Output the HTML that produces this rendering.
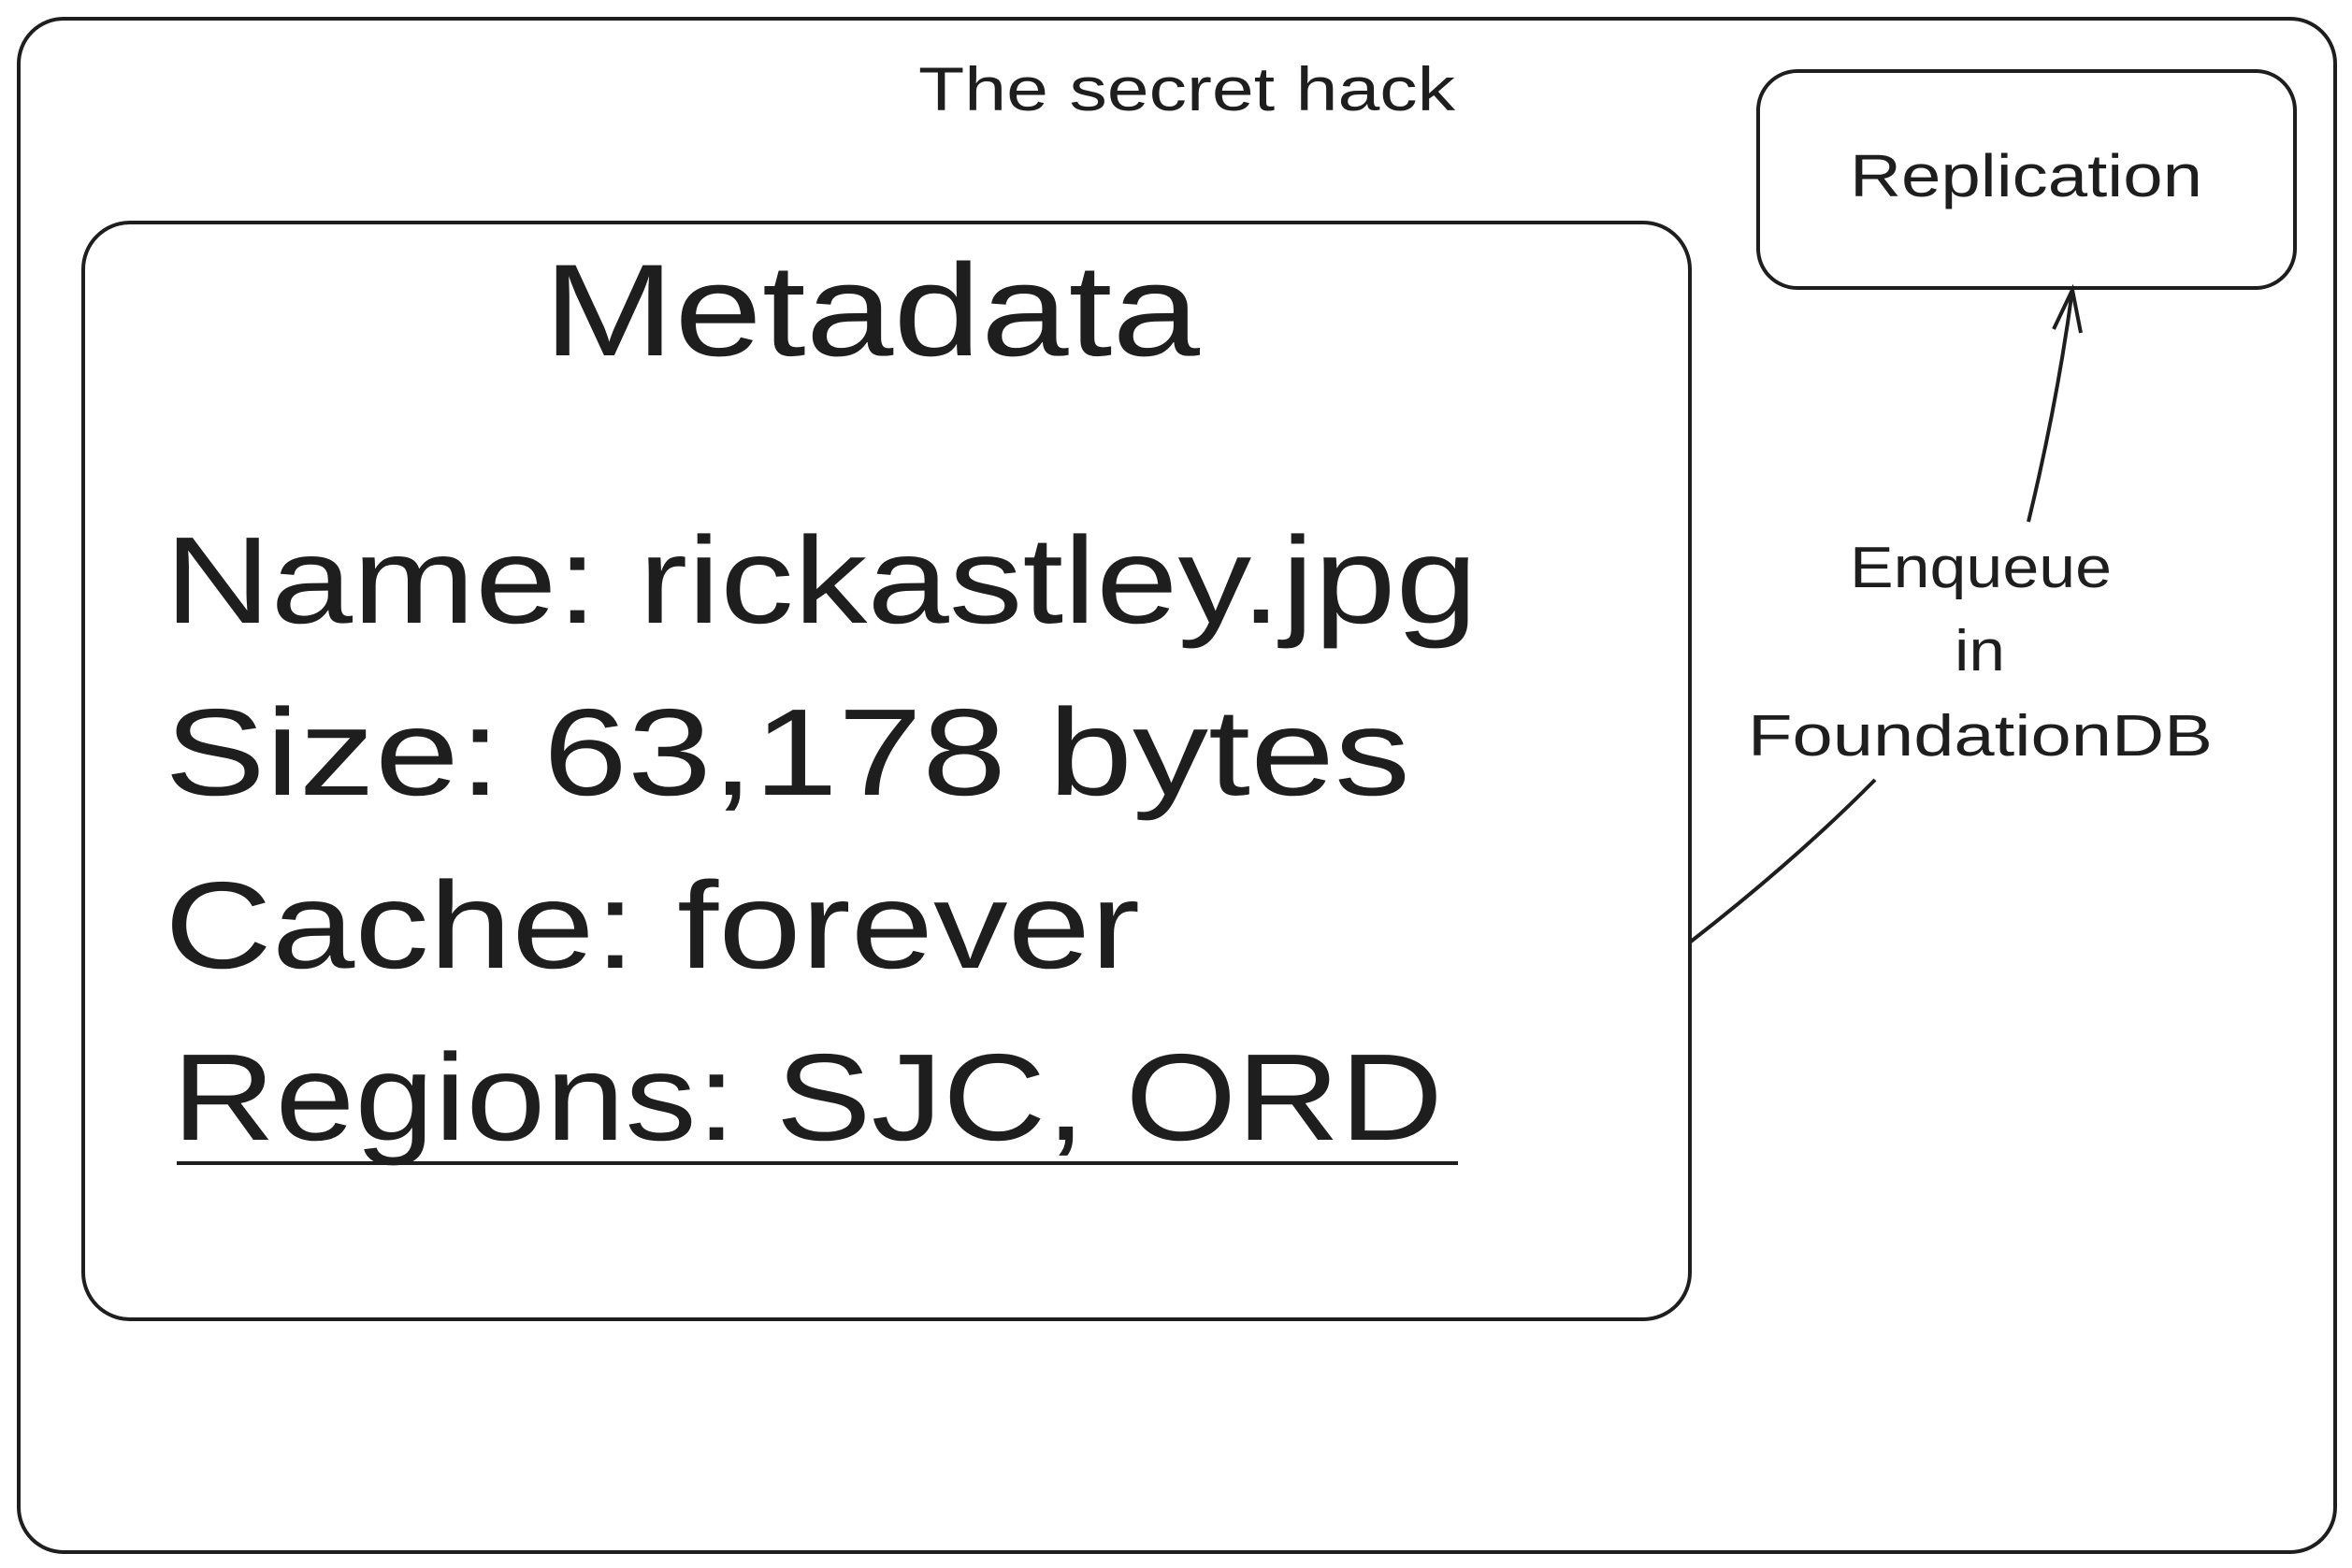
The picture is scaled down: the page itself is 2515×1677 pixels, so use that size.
<!DOCTYPE html>
<html><head><meta charset="utf-8"><style>
html,body{margin:0;padding:0;background:#fff;}
svg{display:block;}
text{font-family:"Liberation Sans",sans-serif;fill:#1e1e1e;}
</style></head><body>
<svg width="2515" height="1677" viewBox="0 0 2515 1677" xmlns="http://www.w3.org/2000/svg">
<rect x="20" y="20" width="2477" height="1640" rx="48" fill="none" stroke="#1e1e1e" stroke-width="4"/>
<text x="982" y="118" font-size="66" textLength="574" lengthAdjust="spacingAndGlyphs">The secret hack</text>
<rect x="1880" y="76" width="574" height="232" rx="42" fill="none" stroke="#1e1e1e" stroke-width="4"/>
<text x="1978" y="210" font-size="64" textLength="377" lengthAdjust="spacingAndGlyphs">Replication</text>
<rect x="89" y="238" width="1718" height="1173" rx="50" fill="none" stroke="#1e1e1e" stroke-width="4"/>
<text x="581" y="380" font-size="140" textLength="702" lengthAdjust="spacingAndGlyphs">Metadata</text>
<text x="176" y="666" font-size="132" textLength="1404" lengthAdjust="spacingAndGlyphs">Name: rickastley.jpg</text>
<text x="176" y="850" font-size="132" textLength="1332" lengthAdjust="spacingAndGlyphs">Size: 63,178 bytes</text>
<text x="176" y="1035" font-size="132" textLength="1043" lengthAdjust="spacingAndGlyphs">Cache: forever</text>
<text x="184" y="1219" font-size="132" textLength="1359" lengthAdjust="spacingAndGlyphs">Regions: SJC, ORD</text>
<line x1="189" y1="1244" x2="1559" y2="1244" stroke="#1e1e1e" stroke-width="4"/>
<text x="1978" y="628" font-size="62" textLength="280" lengthAdjust="spacingAndGlyphs">Enqueue</text>
<text x="2090" y="717" font-size="62" textLength="54" lengthAdjust="spacingAndGlyphs">in</text>
<text x="1869" y="808" font-size="62" textLength="497" lengthAdjust="spacingAndGlyphs">FoundationDB</text>
<path d="M1808 1007 Q1920 920 2005 834" fill="none" stroke="#1e1e1e" stroke-width="4"/>
<path d="M2169 558 Q2200 430 2216 310" fill="none" stroke="#1e1e1e" stroke-width="4"/>
<path d="M2196 352 L2216 310 L2225 356" fill="none" stroke="#1e1e1e" stroke-width="4"/>
</svg>
</body></html>
